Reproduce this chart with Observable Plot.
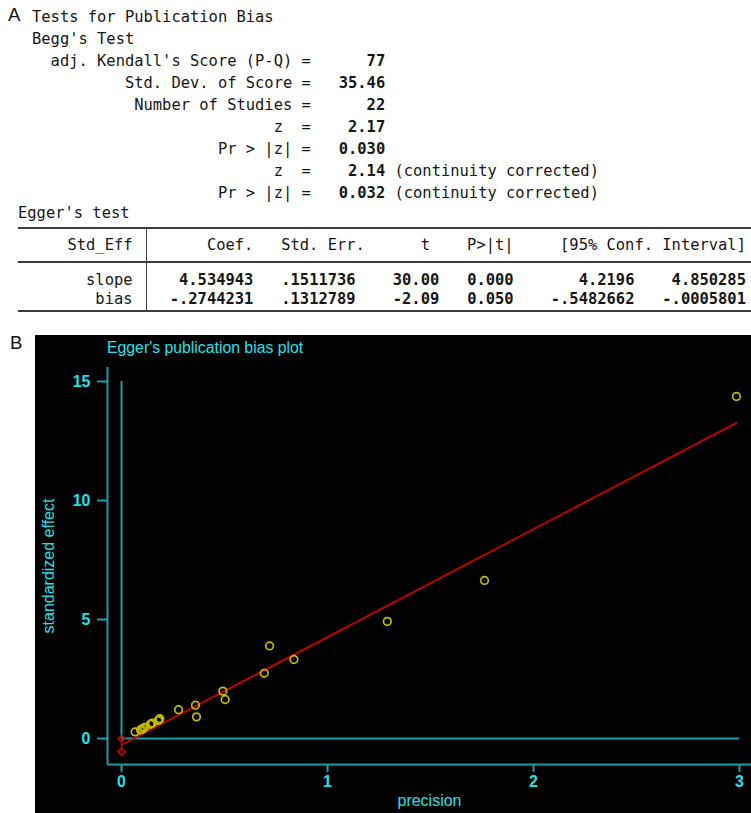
<!DOCTYPE html>
<html><head><meta charset="utf-8">
<script src="https://cdn.jsdelivr.net/npm/d3@7"></script>
<script src="https://cdn.jsdelivr.net/npm/@observablehq/plot@0.6"></script>
<style>
html,body{margin:0;padding:0;background:#fff;}
#root{position:relative;width:751px;height:813px;overflow:hidden;}
.mono{position:absolute;margin:0;font-family:"DejaVu Sans Mono",monospace;font-size:15.45px;line-height:22px;white-space:pre;color:#161616;}
.mono b{font-weight:bold;}
.panelLab{position:absolute;font-family:"Liberation Sans",Arial,sans-serif;font-size:18.5px;line-height:20px;color:#111;}
.rule{position:absolute;background:#3c3c3c;}
#panel{position:absolute;left:35px;top:335px;width:716px;height:478px;background:#000;overflow:hidden;}
#ptitle{position:absolute;left:72px;top:3px;font-family:"Liberation Sans",Arial,sans-serif;font-size:15.8px;line-height:20px;color:#22e3ea;white-space:nowrap;}
#chart{position:absolute;left:0;top:24px;}
</style></head>
<body><div id="root"></div>
<script>
// ---------- data ----------
const beggLabels = ["adj. Kendall's Score (P-Q)", "Std. Dev. of Score", "Number of Studies", "z ", "Pr > |z|", "z ", "Pr > |z|"];
const beggValues = ["77", "35.46", "22", "2.17", "0.030", "2.14", "0.032"];
const beggNotes  = ["", "", "", "", "", "(continuity corrected)", "(continuity corrected)"];

const eggerHeader = ["Std_Eff", "Coef.", "Std. Err.", "t", "P>|t|", "[95% Conf. Interval]"];
const eggerRows   = ["slope", "bias"];
const eggerCoef   = ["4.534943", "-.2744231"];
const eggerSE     = [".1511736", ".1312789"];
const eggerT      = ["30.00", "-2.09"];
const eggerP      = ["0.000", "0.050"];
const eggerLo     = ["4.2196", "-.5482662"];
const eggerHi     = ["4.850285", "-.0005801"];

const precision = [2.985, 1.762, 1.290, 0.837, 0.719, 0.693, 0.492, 0.503, 0.359, 0.364, 0.277, 0.186, 0.183, 0.178, 0.150, 0.146, 0.140, 0.113, 0.106, 0.099, 0.092, 0.066];
const stdEffect = [14.37, 6.64, 4.92, 3.32, 3.89, 2.74, 1.99, 1.64, 1.40, 0.91, 1.21, 0.83, 0.80, 0.76, 0.65, 0.63, 0.60, 0.47, 0.44, 0.38, 0.36, 0.28];

const xTicks = [0, 1, 2, 3];
const yTicks = [0, 5, 10, 15];

// ---------- helpers ----------
const root = document.getElementById("root");
const esc = s => s.replace(/&/g, "&amp;").replace(/</g, "&lt;").replace(/>/g, "&gt;");
function add(cls, css, html) {
  const d = document.createElement("div");
  d.className = cls;
  Object.assign(d.style, css);
  if (html != null) d.innerHTML = html;
  root.appendChild(d);
  return d;
}

// ---------- panel A ----------
add("panelLab", {left: "8px", top: "5px"}, "A");
const beggLines = ["Tests for Publication Bias", "Begg's Test"].map(esc);
beggLabels.forEach((lab, i) => {
  let s = esc(lab.padStart(28) + " =") + "<b>" + esc(beggValues[i].padStart(8)) + "</b>";
  if (beggNotes[i]) s += " " + esc(beggNotes[i]);
  beggLines.push(s);
});
beggLines.forEach((s, i) => add("mono", {left: "32px", top: (6 + 22 * i) + "px"}, s));

add("mono", {left: "18px", top: "202px"}, esc("Egger's test"));

// table rules
add("rule", {left: "18px", top: "227px", width: "733px", height: "2px"});
add("rule", {left: "18px", top: "261px", width: "733px", height: "2px"});
add("rule", {left: "18px", top: "310px", width: "733px", height: "2px"});
add("rule", {left: "146px", top: "228px", width: "1px", height: "83px"});

const hdr = eggerHeader[0].padStart(12) + "  " +
  eggerHeader[1].padStart(11) + eggerHeader[2].padStart(12) + eggerHeader[3].padStart(7) +
  eggerHeader[4].padStart(9) + eggerHeader[5].padStart(25);
add("mono", {left: "21px", top: "234px"}, esc(hdr));
const rowTops = ["269px", "288px"];
eggerRows.forEach((r, i) => {
  const vals = eggerCoef[i].padStart(11) + eggerSE[i].padStart(11) + eggerT[i].padStart(9) +
    eggerP[i].padStart(8) + eggerLo[i].padStart(13) + eggerHi[i].padStart(12);
  add("mono", {left: "21px", top: rowTops[i]}, esc(r.padStart(12) + "  ") + "<b>" + esc(vals) + "</b>");
});

// ---------- panel B ----------
add("panelLab", {left: "10px", top: "333px"}, "B");
const panel = add("", {}, null);
panel.id = "panel";
const title = document.createElement("div");
title.id = "ptitle";
title.textContent = "Egger's publication bias plot";
panel.appendChild(title);

const teal = "#17a2a8", cyan = "#22e3ea", red = "#c80000", yellow = "#c4ba00";
const slope = +eggerCoef[0], bias = +eggerCoef[1];
const ciLo = +eggerLo[1], ciHi = +eggerHi[1];

const pts = precision.map((p, i) => ({precision: p, effect: stdEffect[i]}));
const fit = [0, d3.max(precision)].map(x => ({x, y: bias + slope * x}));

const xDomain = [-0.068, 3.058];
const yDomain = [-1.092, 15.588];
const fmt = d3.format("d");

const chart = Plot.plot({
  width: 716, height: 454,
  marginLeft: 72, marginRight: 0, marginTop: 8, marginBottom: 49,
  style: {background: "#000", color: cyan, fontFamily: "'Liberation Sans', Arial, sans-serif"},
  x: {domain: xDomain},
  y: {domain: yDomain},
  marks: [
    Plot.axisX(xTicks, {tickSize: 8, tickPadding: 3, tickFormat: fmt, stroke: teal, strokeWidth: 2, fill: cyan, fontSize: 16, fontWeight: "bold", label: null}),
    Plot.axisY(yTicks, {tickSize: 10, tickPadding: 7, tickFormat: fmt, stroke: teal, strokeWidth: 2, fill: cyan, fontSize: 16, fontWeight: "bold", label: null}),
    Plot.axisX({ticks: [], tickSize: 0, label: "precision", labelArrow: "none", labelAnchor: "center", labelOffset: 41, fill: cyan, fontSize: 16}),
    Plot.axisY({ticks: [], tickSize: 0, label: "standardized effect", labelArrow: "none", labelAnchor: "center", labelOffset: 65, fill: cyan, fontSize: 16}),
    Plot.ruleX([xDomain[0]], {y1: yDomain[0], y2: yDomain[1], stroke: teal, strokeWidth: 2}),
    Plot.ruleY([yDomain[0]], {x1: xDomain[0], x2: xDomain[1], stroke: teal, strokeWidth: 2}),
    Plot.ruleX([0], {y1: 0, y2: d3.max(yTicks), stroke: teal, strokeWidth: 2}),
    Plot.ruleY([0], {x1: 0, x2: d3.max(xTicks), stroke: teal, strokeWidth: 2}),
    Plot.ruleX([0], {y1: ciLo, y2: ciHi, stroke: red, strokeWidth: 1.5}),
    Plot.line(fit, {x: "x", y: "y", stroke: red, strokeWidth: 1.8}),
    Plot.dot([ciLo, ciHi], {x: () => 0, y: d => d, symbol: "diamond2", r: 3.2, stroke: red, strokeWidth: 1.5}),
    Plot.dot(pts, {x: "precision", y: "effect", r: 3.8, stroke: yellow, strokeWidth: 1.7, fill: "none"})
  ]
});
// remove any axis-label arrows if this Plot version ignores labelArrow
chart.querySelectorAll("text").forEach(t => {
  if (/[→↑←↓]/.test(t.textContent)) t.textContent = t.textContent.replace(/\s*[→↑←↓]\s*/g, "");
});
chart.id = "chart";
panel.appendChild(chart);
</script>
</body></html>
